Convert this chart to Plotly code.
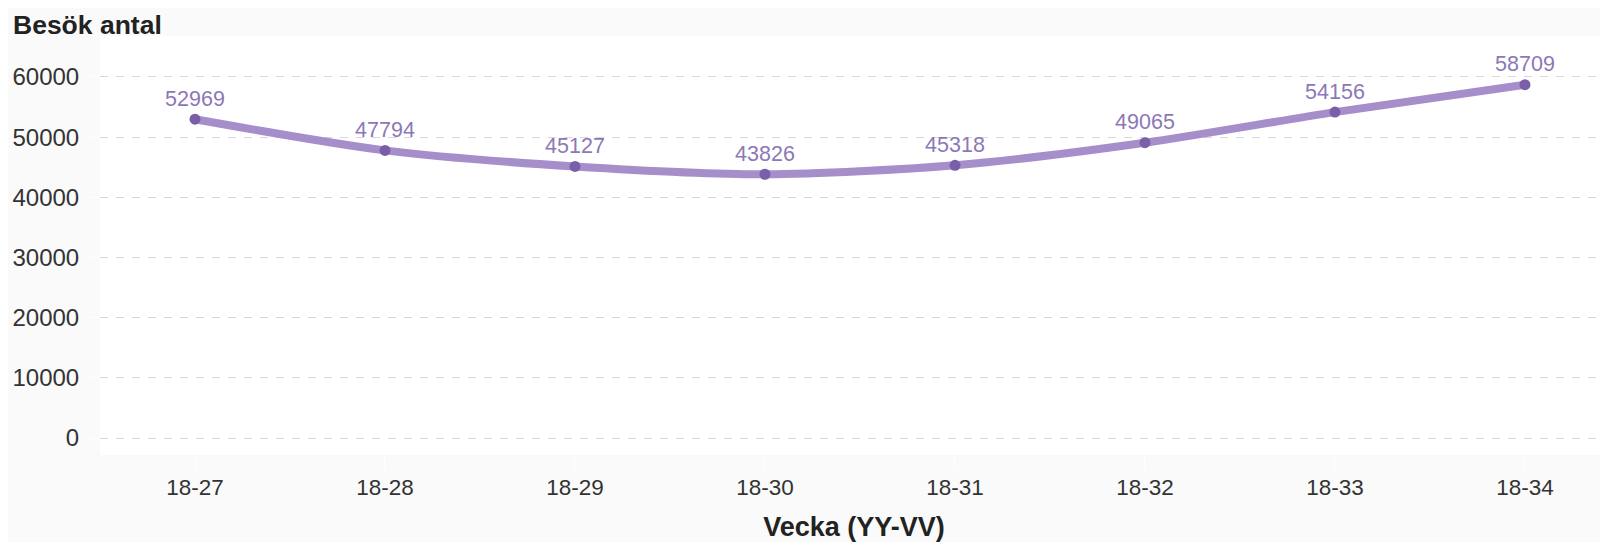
import plotly.graph_objects as go

weeks = ["18-27", "18-28", "18-29", "18-30", "18-31", "18-32", "18-33", "18-34"]
visits = [52969, 47794, 45127, 43826, 45318, 49065, 54156, 58709]
y_ticks = [0, 10000, 20000, 30000, 40000, 50000, 60000]

# page body adds ~8px offset; figure is sized to compensate
W, H = 1600, 534
ML, MT, MB, MR = 92, 28, 87, 0
PW = W - ML - MR
PH = H - MT - MB

fig = go.Figure()
fig.add_trace(go.Scatter(
    x=list(range(len(weeks))), y=visits,
    mode="lines+markers+text",
    line=dict(color="#a68ecb", width=8, shape="spline", smoothing=0.8),
    marker=dict(color="#7b5ea8", size=11),
    text=[str(v) for v in visits],
    textposition="top center",
    textfont=dict(family="Liberation Sans, Arial", size=21.5, color="#8c78b6"),
    hoverinfo="skip",
))

fig.update_layout(
    width=W, height=H,
    margin=dict(l=ML, r=MR, t=MT, b=MB),
    paper_bgcolor="#fafafa",
    plot_bgcolor="#ffffff",
    showlegend=False,
    font=dict(family="Liberation Sans, Arial", color="#333333"),
    annotations=[
        dict(text="<b>Besök antal</b>", xref="paper", yref="paper",
             x=(3 - ML) / PW, y=1 + 11 / PH, xanchor="left", yanchor="middle",
             showarrow=False, font=dict(size=26.5, color="#222222")),
    ],
)
fig.update_xaxes(
    tickmode="array", tickvals=list(range(len(weeks))), ticktext=weeks,
    range=[-0.5, 7.437], showgrid=False, zeroline=False,
    ticks="outside", ticklen=12, tickcolor="#ffffff",
    tickfont=dict(size=22.5, color="#333333"),
    title=dict(text="<b>Vecka (YY-VV)</b>", font=dict(size=27, color="#222222"), standoff=19),
)
fig.update_yaxes(
    tickmode="array", tickvals=y_ticks, ticktext=[str(t) for t in y_ticks],
    range=[-2825, 66800], showgrid=True, gridcolor="#d6d6d6", gridwidth=1,
    griddash="8px,8px", zeroline=False,
    ticks="outside", ticklen=8, tickcolor="#ffffff", ticklabelstandoff=7,
    tickfont=dict(size=24, color="#333333"),
)

fig.write_html("out.html")
